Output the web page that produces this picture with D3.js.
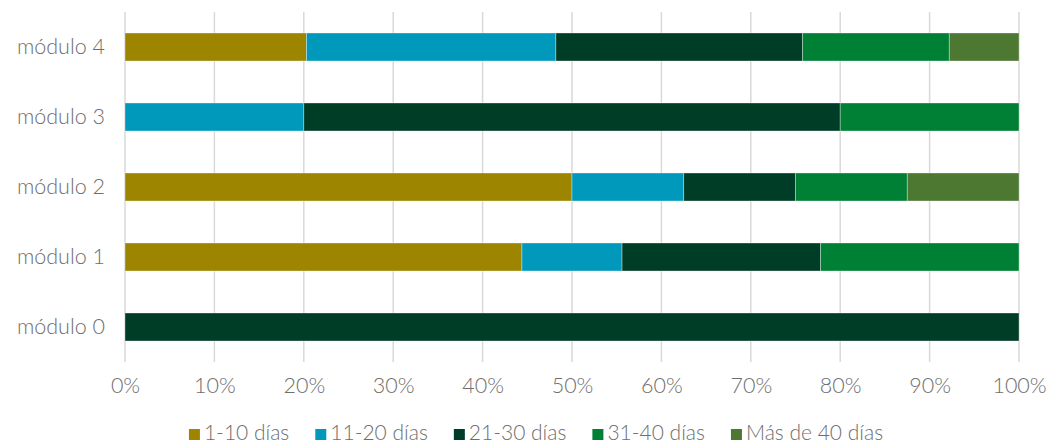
<!DOCTYPE html>
<html>
<head>
<meta charset="utf-8">
<script src="https://cdn.jsdelivr.net/npm/d3@7/dist/d3.min.js"></script>
<style>
  html, body { margin: 0; padding: 0; background: #fff; }
  svg { display: block; font-family: Lato, "Open Sans", sans-serif; font-weight: 300; }
</style>
</head>
<body>
<svg id="chart" width="1054" height="445"></svg>
<script>
// Share of students by days taken, per module (percent of each module)
const modules = ["módulo 4", "módulo 3", "módulo 2", "módulo 1", "módulo 0"];
const seriesNames = ["1-10 días", "11-20 días", "21-30 días", "31-40 días", "Más de 40 días"];
const seriesColors = ["#9e8500", "#0099bb", "#003d26", "#008035", "#4d7831"];
const d1to10   = [20.3, 0,  50,   44.4, 0];
const d11to20  = [27.9, 20, 12.5, 11.2, 0];
const d21to30  = [27.6, 60, 12.5, 22.2, 100];
const d31to40  = [16.4, 20, 12.5, 22.2, 0];
const dOver40  = [7.8,  0,  12.5, 0,    0];
const xTicks = [0, 10, 20, 30, 40, 50, 60, 70, 80, 90, 100];

const seriesValues = [d1to10, d11to20, d21to30, d31to40, dOver40];
const rows = modules.map((m, i) => {
  const r = { module: m };
  seriesNames.forEach((s, k) => { r[s] = seriesValues[k][i]; });
  return r;
});

const svg = d3.select("#chart");
const margin = { left: 125, right: 35, top: 12, bottom: 83 };
const W = 1054, H = 445;
const fontSize = 21.5;
const textColor = "#6e6e6e";

const x = d3.scaleLinear().domain([0, 100]).range([margin.left, W - margin.right]);
const y = d3.scaleBand().domain(modules).range([margin.top, H - margin.bottom]).paddingInner(0.6).paddingOuter(0.3);

// vertical gridlines
svg.append("g")
  .selectAll("line")
  .data(xTicks)
  .join("line")
  .attr("x1", d => x(d)).attr("x2", d => x(d))
  .attr("y1", margin.top).attr("y2", H - margin.bottom)
  .attr("stroke", "#d9d9d9")
  .attr("stroke-width", 1.5);

// stacked bars
const stack = d3.stack().keys(seriesNames);
const layers = stack(rows);
const color = d3.scaleOrdinal().domain(seriesNames).range(seriesColors);

svg.append("g")
  .selectAll("g")
  .data(layers)
  .join("g")
  .attr("fill", d => color(d.key))
  .selectAll("rect")
  .data(d => d.filter(p => p[1] - p[0] > 0))
  .join("rect")
  .attr("x", d => x(d[0]))
  .attr("width", d => x(d[1]) - x(d[0]))
  .attr("y", d => y(d.data.module))
  .attr("height", y.bandwidth())
  .attr("stroke", "rgba(255,255,255,0.45)")
  .attr("stroke-width", 0.75);

function styleText(sel, size) {
  sel.attr("fill", textColor)
    .attr("font-size", size || fontSize)
    .attr("font-family", "Lato, sans-serif")
    .attr("font-weight", 300);
}

// x axis tick labels
const xAxis = d3.axisBottom(x).tickValues(xTicks).tickFormat(d => d + "%").tickSize(0).tickPadding(0);
const gx = svg.append("g").attr("transform", `translate(0, ${H - margin.bottom + 16})`).call(xAxis);
gx.select(".domain").remove();
gx.selectAll("text").call(styleText);

// y axis category labels
const yAxis = d3.axisLeft(y).tickSize(0).tickPadding(20);
const gy = svg.append("g").attr("transform", `translate(${margin.left}, 0)`).call(yAxis);
gy.select(".domain").remove();
gy.selectAll("text").call(styleText);

// legend, laid out by measured text widths and centred
const legend = svg.append("g");
const items = legend.selectAll("g").data(seriesNames).join("g");
items.append("rect")
  .attr("width", 11).attr("height", 11)
  .attr("y", -11)
  .attr("fill", d => color(d));
items.append("text")
  .attr("x", 15)
  .attr("y", 0)
  .call(styleText, 21)
  .text(d => d);

let offset = 0;
const gap = 26;
items.each(function () {
  const g = d3.select(this);
  g.attr("transform", `translate(${offset}, 0)`);
  const w = 15 + g.select("text").node().getComputedTextLength();
  offset += w + gap;
});
const total = offset - gap;
legend.attr("transform", `translate(${536 - total / 2}, 440)`);
</script>
</body>
</html>
